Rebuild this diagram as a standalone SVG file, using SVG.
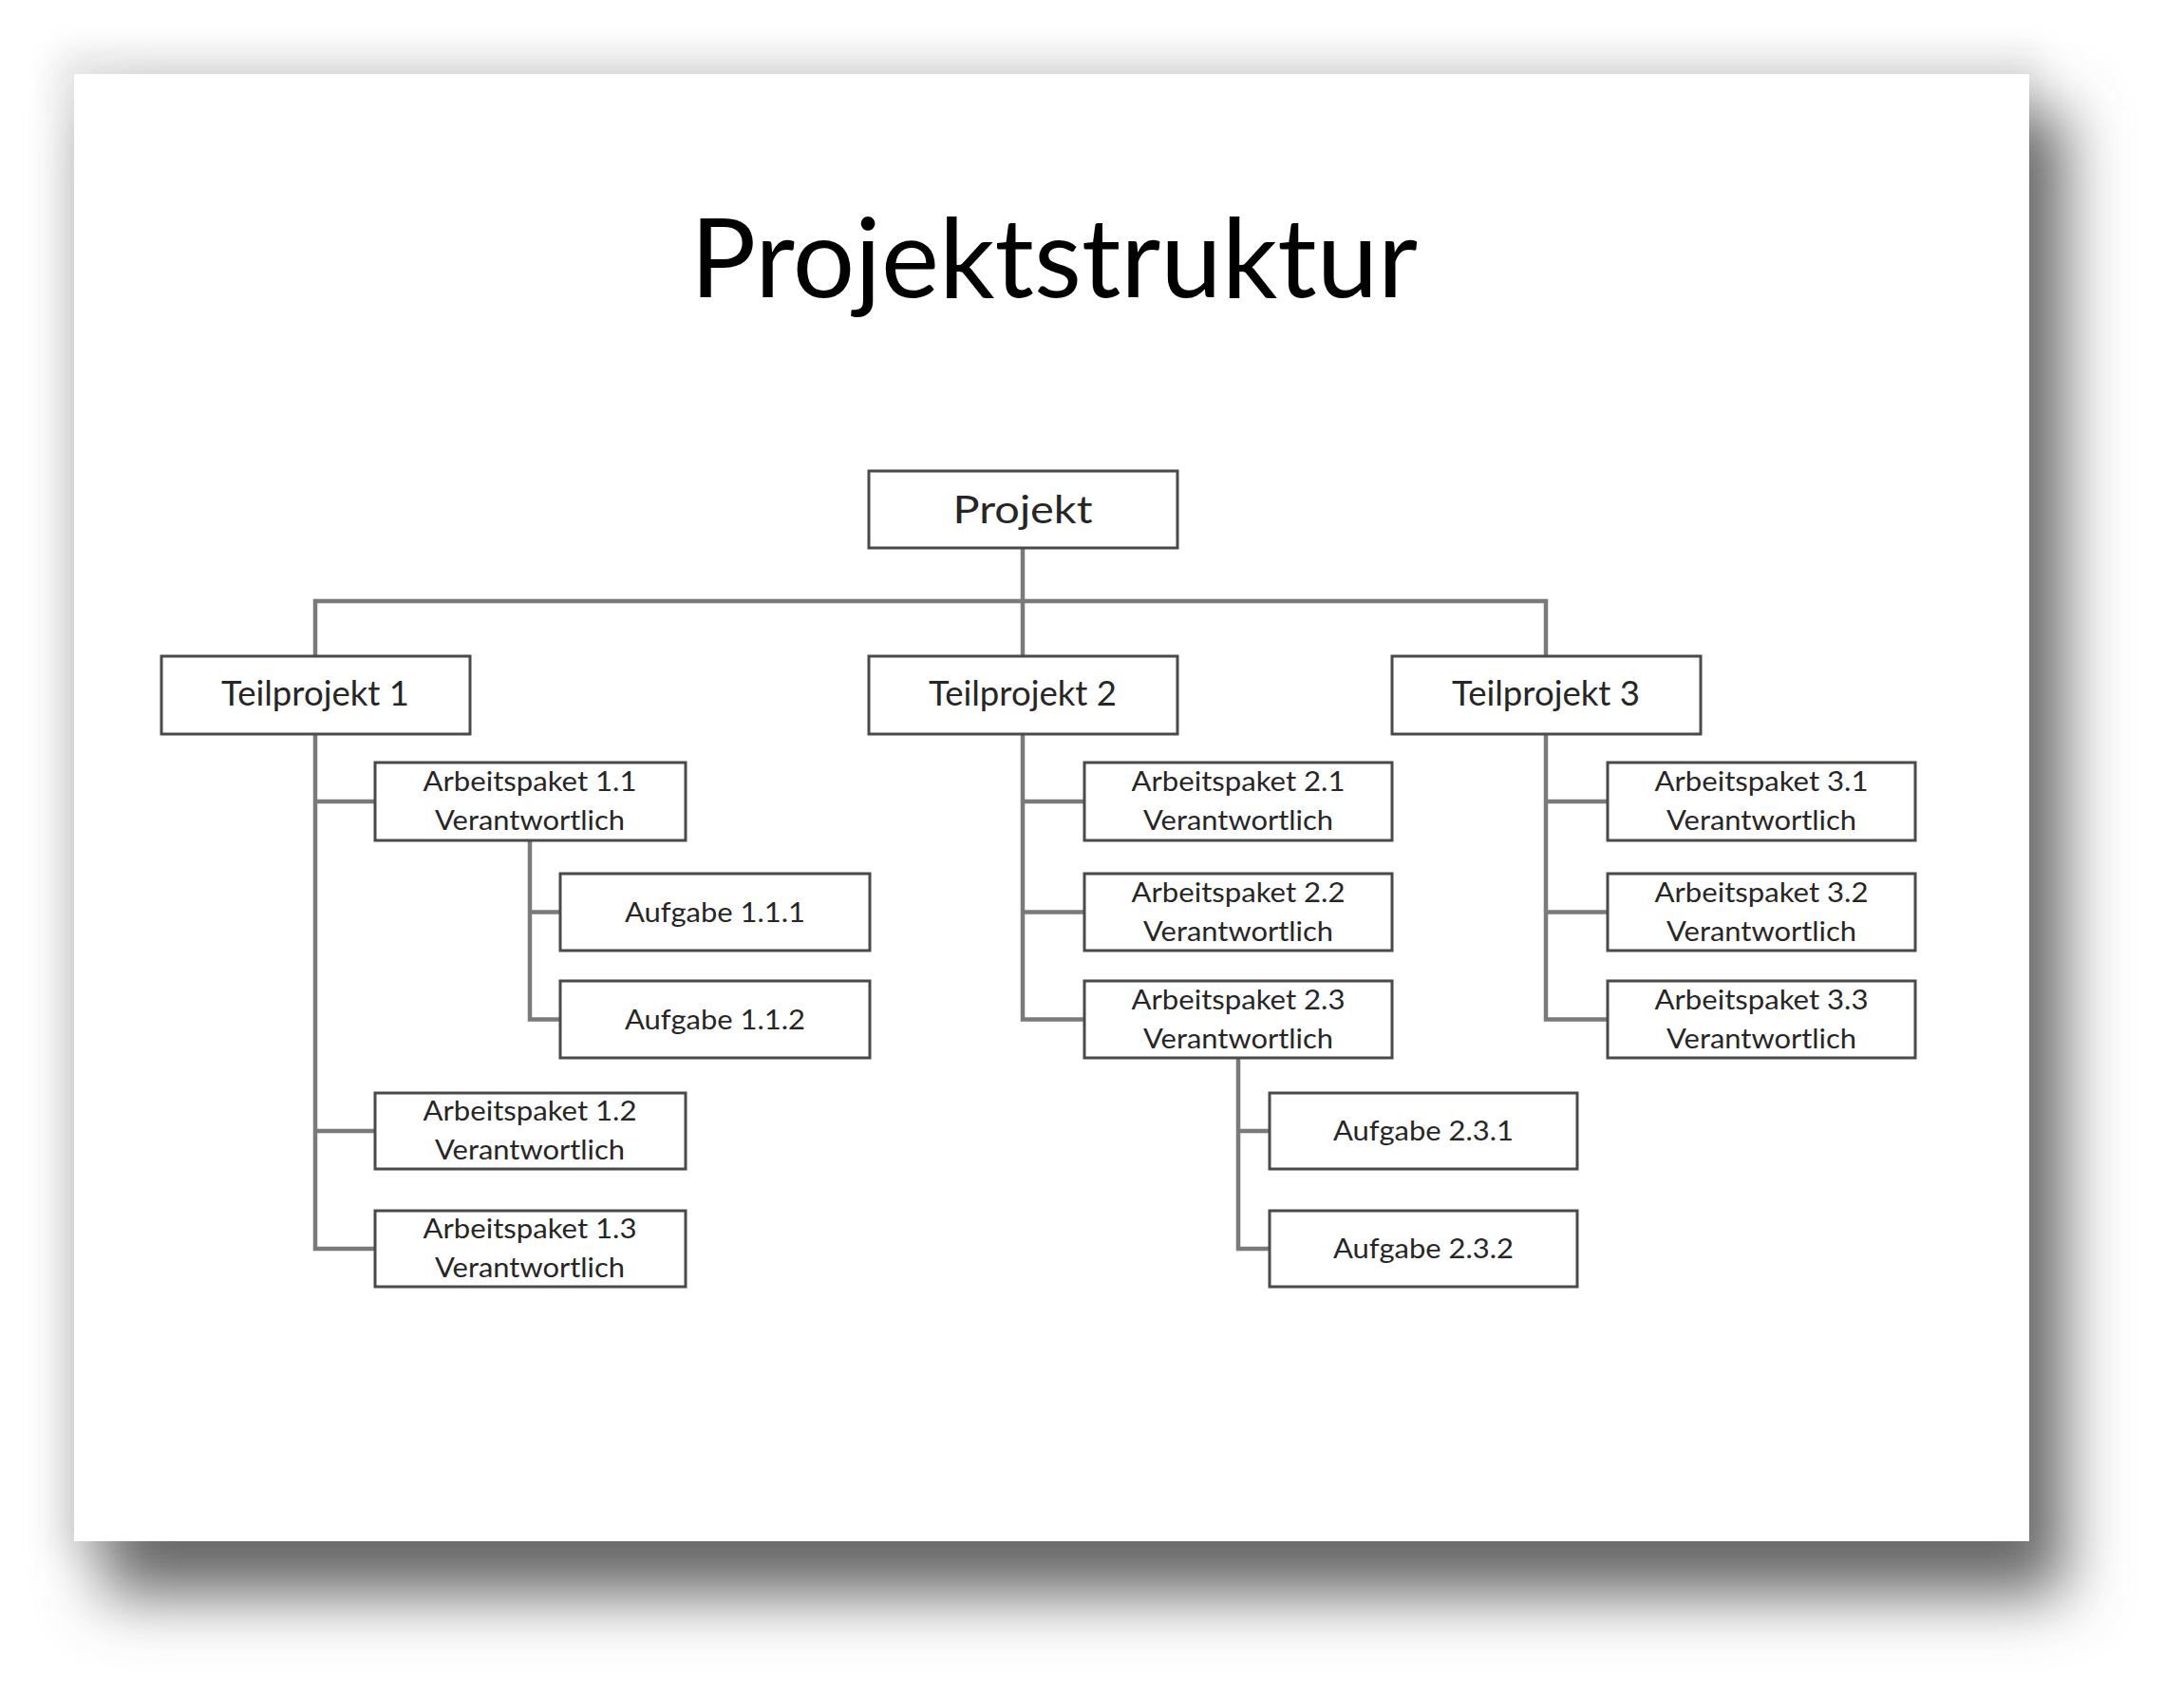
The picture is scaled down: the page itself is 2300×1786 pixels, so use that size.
<svg xmlns="http://www.w3.org/2000/svg" width="2300" height="1786" viewBox="0 0 2300 1786">
<style>
.box{fill:#ffffff;stroke:#4a4a4a;stroke-width:3}
.t{font-family:Lato,"Open Sans","Liberation Sans",sans-serif;fill:#262626;text-anchor:middle}
.tp{font-size:36px}
.ap{font-size:28.5px}
.au{font-size:29px}
.conn path{fill:none;stroke:#7a7a7a;stroke-width:4.5;stroke-linejoin:miter}
</style>
<defs>
<filter id="sh" x="-10%" y="-10%" width="120%" height="125%">
<feGaussianBlur stdDeviation="33"/>
</filter>
<filter id="sh2" x="-10%" y="-10%" width="120%" height="120%">
<feGaussianBlur stdDeviation="18"/>
</filter>
</defs>
<rect x="0" y="0" width="2300" height="1786" fill="#ffffff"/>
<rect x="60" y="55" width="2090" height="1580" fill="#e6e6e6" filter="url(#sh2)"/>
<rect x="108" y="118" width="2066" height="1562" fill="#686868" filter="url(#sh)"/>
<rect x="78" y="78" width="2059" height="1545" fill="#ffffff"/>
<text x="1110" y="313" font-family="Lato,'Open Sans','Liberation Sans',sans-serif" font-size="116" fill="#000000" text-anchor="middle" textLength="766" lengthAdjust="spacingAndGlyphs">Projektstruktur</text>
<g class="conn" id="connectors">
<path d="M1077,577 V691"/>
<path d="M332,691 V633 H1628 V691"/>
<path d="M332,773 V1315 H395"/>
<path d="M332,844 H395"/>
<path d="M332,1191 H395"/>
<path d="M558,885 V1073.5 H590"/>
<path d="M558,960.5 H590"/>
<path d="M1077,773 V1073.5 H1142"/>
<path d="M1077,844 H1142"/>
<path d="M1077,960.5 H1142"/>
<path d="M1304,1114 V1315 H1337"/>
<path d="M1304,1191 H1337"/>
<path d="M1628,773 V1073.5 H1693"/>
<path d="M1628,844 H1693"/>
<path d="M1628,960.5 H1693"/>
</g>
<g id="projekt"><rect class="box" x="915" y="496" width="325" height="81"/><text class="t" x="1077" y="551" font-size="40" textLength="147" lengthAdjust="spacingAndGlyphs">Projekt</text></g>
<g id="tp1"><rect class="box" x="170" y="691" width="325" height="82"/><text class="t tp" x="332" y="743" textLength="198" lengthAdjust="spacingAndGlyphs">Teilprojekt 1</text></g>
<g id="tp2"><rect class="box" x="915" y="691" width="325" height="82"/><text class="t tp" x="1077" y="743" textLength="198" lengthAdjust="spacingAndGlyphs">Teilprojekt 2</text></g>
<g id="tp3"><rect class="box" x="1466" y="691" width="325" height="82"/><text class="t tp" x="1628" y="743" textLength="198" lengthAdjust="spacingAndGlyphs">Teilprojekt 3</text></g>
<g id="ap11"><rect class="box" x="395" y="803" width="327" height="82"/><text class="t ap" x="558" y="833" textLength="225" lengthAdjust="spacingAndGlyphs">Arbeitspaket 1.1</text><text class="t ap" x="558" y="874" textLength="200" lengthAdjust="spacingAndGlyphs">Verantwortlich</text></g>
<g id="au111"><rect class="box" x="590" y="920" width="326" height="81"/><text class="t au" x="753" y="970.5" textLength="190" lengthAdjust="spacingAndGlyphs">Aufgabe 1.1.1</text></g>
<g id="au112"><rect class="box" x="590" y="1033" width="326" height="81"/><text class="t au" x="753" y="1083.5" textLength="190" lengthAdjust="spacingAndGlyphs">Aufgabe 1.1.2</text></g>
<g id="ap12"><rect class="box" x="395" y="1151" width="327" height="80"/><text class="t ap" x="558" y="1180" textLength="225" lengthAdjust="spacingAndGlyphs">Arbeitspaket 1.2</text><text class="t ap" x="558" y="1221" textLength="200" lengthAdjust="spacingAndGlyphs">Verantwortlich</text></g>
<g id="ap13"><rect class="box" x="395" y="1275" width="327" height="80"/><text class="t ap" x="558" y="1304" textLength="225" lengthAdjust="spacingAndGlyphs">Arbeitspaket 1.3</text><text class="t ap" x="558" y="1345" textLength="200" lengthAdjust="spacingAndGlyphs">Verantwortlich</text></g>
<g id="ap21"><rect class="box" x="1142" y="803" width="324" height="82"/><text class="t ap" x="1304" y="833" textLength="225" lengthAdjust="spacingAndGlyphs">Arbeitspaket 2.1</text><text class="t ap" x="1304" y="874" textLength="200" lengthAdjust="spacingAndGlyphs">Verantwortlich</text></g>
<g id="ap22"><rect class="box" x="1142" y="920" width="324" height="81"/><text class="t ap" x="1304" y="949.5" textLength="225" lengthAdjust="spacingAndGlyphs">Arbeitspaket 2.2</text><text class="t ap" x="1304" y="990.5" textLength="200" lengthAdjust="spacingAndGlyphs">Verantwortlich</text></g>
<g id="ap23"><rect class="box" x="1142" y="1033" width="324" height="81"/><text class="t ap" x="1304" y="1062.5" textLength="225" lengthAdjust="spacingAndGlyphs">Arbeitspaket 2.3</text><text class="t ap" x="1304" y="1103.5" textLength="200" lengthAdjust="spacingAndGlyphs">Verantwortlich</text></g>
<g id="au231"><rect class="box" x="1337" y="1151" width="324" height="80"/><text class="t au" x="1499" y="1201" textLength="190" lengthAdjust="spacingAndGlyphs">Aufgabe 2.3.1</text></g>
<g id="au232"><rect class="box" x="1337" y="1275" width="324" height="80"/><text class="t au" x="1499" y="1325" textLength="190" lengthAdjust="spacingAndGlyphs">Aufgabe 2.3.2</text></g>
<g id="ap31"><rect class="box" x="1693" y="803" width="324" height="82"/><text class="t ap" x="1855" y="833" textLength="225" lengthAdjust="spacingAndGlyphs">Arbeitspaket 3.1</text><text class="t ap" x="1855" y="874" textLength="200" lengthAdjust="spacingAndGlyphs">Verantwortlich</text></g>
<g id="ap32"><rect class="box" x="1693" y="920" width="324" height="81"/><text class="t ap" x="1855" y="949.5" textLength="225" lengthAdjust="spacingAndGlyphs">Arbeitspaket 3.2</text><text class="t ap" x="1855" y="990.5" textLength="200" lengthAdjust="spacingAndGlyphs">Verantwortlich</text></g>
<g id="ap33"><rect class="box" x="1693" y="1033" width="324" height="81"/><text class="t ap" x="1855" y="1062.5" textLength="225" lengthAdjust="spacingAndGlyphs">Arbeitspaket 3.3</text><text class="t ap" x="1855" y="1103.5" textLength="200" lengthAdjust="spacingAndGlyphs">Verantwortlich</text></g>
</svg>
